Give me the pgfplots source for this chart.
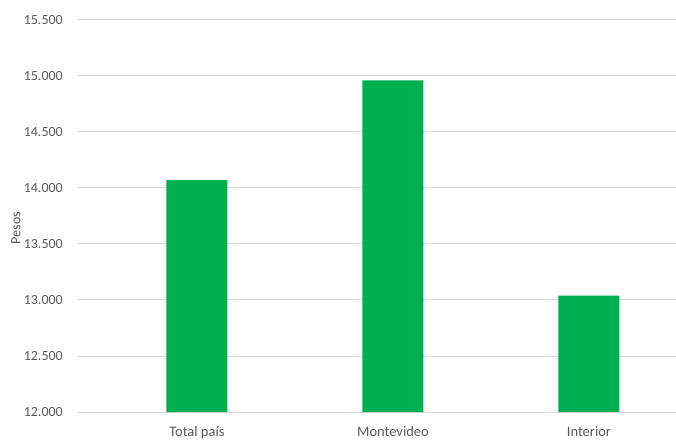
\documentclass[border=0pt]{standalone}
\usepackage{pgfplots}
\pgfplotsset{compat=1.18}
\usepackage{fontspec}
\setmainfont{Carlito}
\definecolor{barcol}{HTML}{00B050}
\definecolor{txtcol}{HTML}{595959}
\definecolor{gridcol}{HTML}{D9D9D9}
\begin{document}
\begin{tikzpicture}[x=1pt,y=1pt]
\path[use as bounding box] (0,0) rectangle (676,441);
\begin{axis}[
    at={(77pt,29pt)}, anchor=south west,
    scale only axis,
    width=599pt, height=392pt,
    xmin=-0.612, xmax=2.444,
    ymin=12000, ymax=15500,
    ytick={12000,12500,13000,13500,14000,14500,15000,15500},
    scaled y ticks=false,
    /pgf/number format/.cd, 1000 sep={.}, assume math mode=true,
    /pgfplots/.cd,
    xtick={0,1,2},
    xticklabels={Total país,Montevideo,Interior},
    ymajorgrids=true,
    grid style={gridcol, line width=1pt},
    axis line style={draw=none},
    major tick length=0pt,
    yticklabel style={font=\fontsize{14}{16}\selectfont, text=txtcol, inner sep=0pt, xshift=-14pt},
    xticklabel style={font=\fontsize{14.5}{16}\selectfont, text=txtcol, inner sep=0pt, anchor=north, yshift=-14pt},
    ylabel={Pesos},
    every axis y label/.style={at={(axis description cs:-0.102,0.469)}, rotate=90, anchor=center,
        font=\fontsize{14}{16}\selectfont, text=txtcol},
    ybar, bar width=61pt,
]
\addplot[fill=barcol, draw=none] coordinates {(0,14070) (1,14960) (2,13040)};
\end{axis}
\end{tikzpicture}
\end{document}
